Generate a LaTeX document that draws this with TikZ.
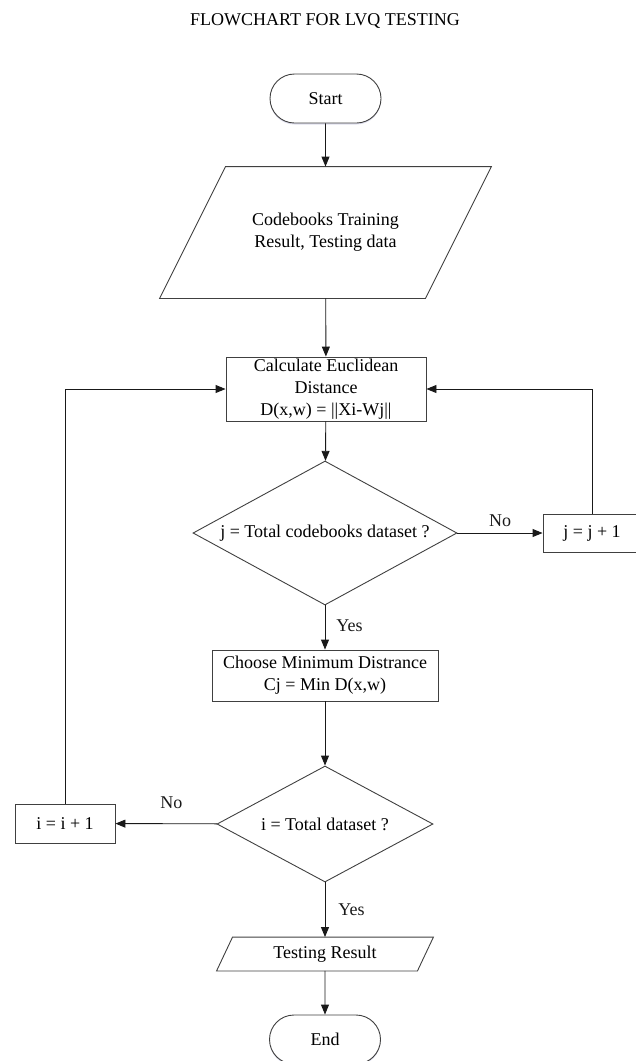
\documentclass[tikz,border=0pt]{standalone}
\usepackage{fontspec}
\setmainfont{Liberation Serif}
\usetikzlibrary{shapes.geometric,shapes.misc,arrows.meta,shadows}
\begin{document}
\begin{tikzpicture}[x=1pt,y=-1pt,
    font=\fontsize{18}{22}\selectfont,
    line width=0.9pt,
    every node/.style={inner sep=0pt, align=center},
    box/.style={draw=black!75, rectangle, fill=white},
    term/.style={draw=black!75, rounded rectangle, fill=white,
      minimum width=111pt, minimum height=49pt,
      drop shadow={shadow xshift=0pt, shadow yshift=-1.5pt, opacity=0.2, fill=blue!30!gray}},
    decide/.style={draw=black!75, diamond},
    slant/.style={draw=black!75},
    flow/.style={-{Triangle[length=10pt,width=8pt]}, black!90}]
  \useasboundingbox (0,0) rectangle (635,1061);

  \node[anchor=base] (title) at (325,25.5) {FLOWCHART FOR LVQ TESTING};

  \node[term] (start) at (325.5,98.5) {Start};
  \node[minimum width=265pt, minimum height=131pt] (data) at (325.5,232.5) {Codebooks Training\\Result, Testing data};
  \draw[slant] ([xshift=33pt]data.north west) -- ([xshift=33pt]data.north east)
    -- ([xshift=-33pt]data.south east) -- ([xshift=-33pt]data.south west) -- cycle;
  \node[box, minimum width=200pt, minimum height=64pt] (calc) at (326,389) {Calculate Euclidean\\Distance\\D(x,w) = ||Xi-Wj||};
  \node[decide, aspect=1.833, minimum width=264pt, minimum height=144pt] (dec1) at (325,533) {j = Total codebooks dataset ?};
  \node[box, minimum width=98pt, minimum height=38pt] (jinc) at (592,533) {j = j + 1};
  \node[box, minimum width=226pt, minimum height=51pt] (choose) at (325,675.5) {Choose Minimum Distrance\\Cj = Min D(x,w)};
  \node[decide, aspect=1.86, minimum width=216pt, minimum height=116pt] (dec2) at (325,824) {i = Total dataset ?};
  \node[box, minimum width=100pt, minimum height=39pt] (iinc) at (65,823.5) {i = i + 1};
  \node[minimum width=200pt, minimum height=33pt] (result) at (325,954) {Testing Result};
  \draw[slant] ([xshift=8pt]result.north west) -- ([xshift=8pt]result.north east)
    -- ([xshift=-8pt]result.south east) -- ([xshift=-8pt]result.south west) -- cycle;
  \node[term] (end) at (325,1039.5) {End};

  \draw[flow] (start) -- (data);
  \draw[flow] (data) -- (calc);
  \draw[flow] (calc) -- (dec1);
  \draw[flow] (dec1) -- node[above=6pt] (no1) {No} (jinc);
  \draw[flow] (jinc.north) |- (calc.east);
  \draw[flow] (dec1) -- node[pos=0.45, right=11pt] (yes1) {Yes} (choose);
  \draw[flow] (choose) -- (dec2);
  \draw[flow] (dec2) -- node[pos=0.45, above=15pt] (no2) {No} (iinc);
  \draw[flow] (iinc.north) |- (calc.west);
  \draw[flow] (dec2) -- node[pos=0.5, right=13pt] (yes2) {Yes} (result);
  \draw[flow] (result) -- (end);
\end{tikzpicture}
\end{document}
